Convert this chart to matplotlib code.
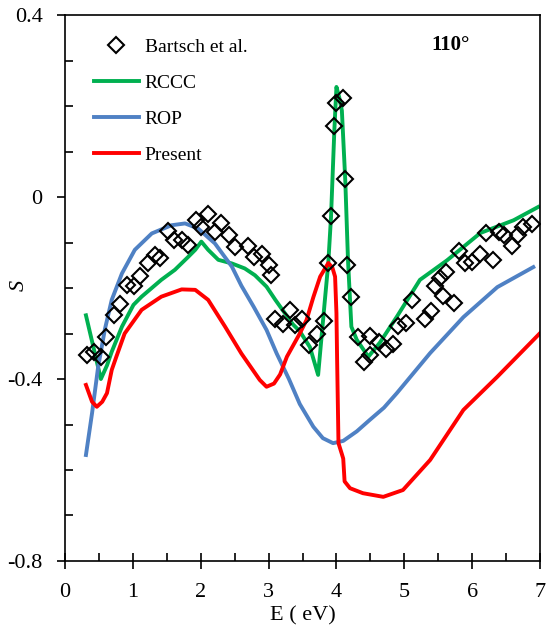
import numpy as np
import matplotlib.pyplot as plt
from matplotlib.ticker import MultipleLocator

plt.rcParams['font.family'] = ['Liberation Serif', 'DejaVu Serif']

# RCCC (green)
rccc_E = [0.31, 0.53, 0.62, 0.69, 0.84, 1.01, 1.13, 1.42, 1.62, 1.82, 1.92, 2.01, 2.11, 2.26,
          2.46, 2.65, 2.80, 2.97, 3.10, 3.21, 3.36, 3.46, 3.61, 3.73, 3.83, 3.88, 3.92, 3.97,
          4.00, 4.04, 4.08, 4.13, 4.17, 4.22, 4.30, 4.47, 4.64, 4.89, 5.23, 5.63, 6.12, 6.61, 6.97]
rccc_S = [-0.26, -0.40, -0.37, -0.34, -0.285, -0.237, -0.219, -0.182, -0.16, -0.131, -0.116, -0.098, -0.116, -0.138,
          -0.146, -0.157, -0.172, -0.197, -0.226, -0.249, -0.28, -0.295, -0.33, -0.391, -0.226, -0.145, -0.044, 0.15,
          0.242, 0.22, 0.19, 0.037, -0.138, -0.285, -0.314, -0.351, -0.32, -0.263, -0.182, -0.139, -0.079, -0.051, -0.022]

# ROP (blue)
rop_E = [0.31, 0.40, 0.49, 0.59, 0.69, 0.84, 1.03, 1.28, 1.57, 1.77, 1.96, 2.21, 2.46, 2.60, 2.78,
         2.97, 3.12, 3.30, 3.46, 3.66, 3.80, 3.95, 4.10, 4.30, 4.49, 4.70, 4.89, 5.38, 5.87, 6.37, 6.90]
rop_S = [-0.567, -0.475, -0.373, -0.29, -0.226, -0.168, -0.116, -0.080, -0.062, -0.058, -0.069, -0.102, -0.153, -0.195, -0.241,
         -0.292, -0.344, -0.40, -0.455, -0.505, -0.530, -0.541, -0.536, -0.515, -0.49, -0.463, -0.431, -0.343, -0.264, -0.198, -0.154]

# Present (red)
pres_E = [0.31, 0.40, 0.47, 0.55, 0.62, 0.69, 0.76, 0.88, 1.13, 1.42, 1.72, 1.92, 2.11, 2.36, 2.60, 2.87, 2.97,
          3.08, 3.17, 3.27, 3.46, 3.56, 3.66, 3.76, 3.88, 3.94, 3.98, 4.00, 4.01, 4.03, 4.08, 4.10, 4.12, 4.20,
          4.39, 4.69, 4.98, 5.38, 5.87, 6.37, 7.00]
pres_S = [-0.413, -0.45, -0.461, -0.45, -0.431, -0.38, -0.35, -0.30, -0.248, -0.219, -0.203, -0.204, -0.226, -0.285, -0.344, -0.402, -0.417,
          -0.41, -0.39, -0.351, -0.30, -0.27, -0.22, -0.175, -0.145, -0.155, -0.175, -0.255, -0.358, -0.541, -0.565, -0.575, -0.625, -0.64,
          -0.651, -0.659, -0.644, -0.578, -0.468, -0.395, -0.299]

# Bartsch et al. (experiment)
exp_E = [0.32, 0.43, 0.53, 0.61, 0.73, 0.81, 0.91, 1.02, 1.11, 1.22, 1.32, 1.40, 1.52, 1.60, 1.73, 1.81,
         1.93, 2.01, 2.11, 2.21, 2.30, 2.41, 2.51, 2.70, 2.78, 2.91, 3.00, 3.03, 3.09, 3.21, 3.32, 3.39,
         3.49, 3.59, 3.71, 3.82, 3.88, 3.92, 3.96, 3.99, 4.09, 4.13, 4.16, 4.22, 4.32, 4.41, 4.49, 4.49,
         4.62, 4.73, 4.83, 4.91, 5.03, 5.11, 5.31, 5.40, 5.45, 5.53, 5.57, 5.62, 5.73, 5.80, 5.89, 5.99,
         6.11, 6.20, 6.30, 6.39, 6.47, 6.58, 6.68, 6.75, 6.88]
exp_S = [-0.347, -0.341, -0.352, -0.308, -0.260, -0.235, -0.193, -0.196, -0.174, -0.145, -0.127, -0.134, -0.074, -0.095, -0.095, -0.105,
         -0.051, -0.065, -0.037, -0.076, -0.057, -0.084, -0.109, -0.108, -0.131, -0.125, -0.149, -0.171, -0.269, -0.279, -0.248, -0.281,
         -0.269, -0.325, -0.301, -0.272, -0.146, -0.042, 0.156, 0.206, 0.217, 0.039, -0.149, -0.220, -0.307, -0.362, -0.347, -0.305,
         -0.318, -0.335, -0.323, -0.284, -0.276, -0.226, -0.269, -0.250, -0.196, -0.179, -0.218, -0.164, -0.232, -0.118, -0.146, -0.142,
         -0.125, -0.078, -0.138, -0.076, -0.084, -0.108, -0.084, -0.065, -0.059]

fig = plt.figure(figsize=(5.5, 6.28), dpi=100)
ax = fig.add_axes([0.118, 0.1067, 0.864, 0.8693])

ax.plot(exp_E, exp_S, 'D', markersize=8.5, markerfacecolor='none', markeredgecolor='black',
        markeredgewidth=1.5, label="Bartsch et al.", zorder=4)
ax.plot(rccc_E, rccc_S, color='#00B050', lw=2.8, label="RCCC")
ax.plot(rop_E, rop_S, color='#4F81C4', lw=2.8, label="ROP")
ax.plot(pres_E, pres_S, color='#FF0000', lw=2.8, label="Present")

ax.set_xlim(0, 7)
ax.set_ylim(-0.8, 0.4)
ax.xaxis.set_major_locator(MultipleLocator(1))
ax.xaxis.set_minor_locator(MultipleLocator(0.5))
ax.yaxis.set_minor_locator(MultipleLocator(0.1))
ax.set_yticks([-0.8, -0.4, 0, 0.4])
ax.set_yticklabels(['-0.8', '-0.4', '0', '0.4'])
ax.tick_params(axis='x', which='major', direction='inout', length=12, width=1.2, labelsize=16, pad=10)
ax.tick_params(axis='x', which='minor', direction='in', length=6, width=1.2)
ax.tick_params(axis='y', which='major', direction='out', length=6, width=1.2, labelsize=16, pad=10)
ax.tick_params(axis='y', which='minor', direction='in', length=6, width=1.2)
for s in ax.spines.values():
    s.set_linewidth(1.2)

ax.set_xlabel("E ( eV)", fontsize=16, labelpad=3)
ax.set_ylabel("S", fontsize=16, style='italic')
ax.yaxis.set_label_coords(-0.077, 0.504)

ax.text(0.853, 0.945, "110°", transform=ax.transAxes, fontsize=15, fontweight='bold',
        ha='right', va='center')

ax.legend(loc='upper left', bbox_to_anchor=(0.045, 0.972), frameon=False, fontsize=14,
          handlelength=2.3, handletextpad=0.3, labelspacing=0.95, borderaxespad=0)

fig.savefig("out.png", dpi=100)
